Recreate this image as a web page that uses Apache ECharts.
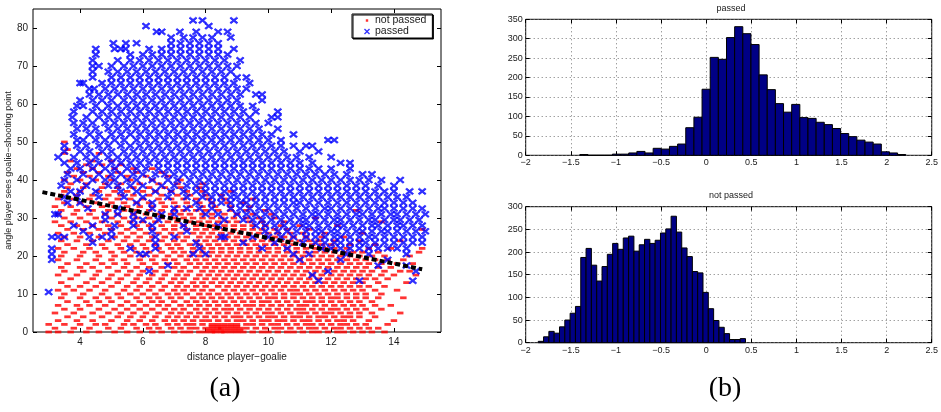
<!DOCTYPE html>
<html>
<head>
<meta charset="utf-8">
<script src="https://cdn.jsdelivr.net/npm/echarts@6/dist/echarts.min.js"></script>
<style>
  html, body { margin: 0; padding: 0; background: #fff; }
  #main { width: 941px; height: 412px; }
</style>
</head>
<body>
<div id="main"></div>
<script>
// ---- data ----
// scatter (a): rows of [angle, [distances...]]
var notPassedRows = [
  [0, [3.0,3.3,3.7,4.2,4.6,5.1,5.5,5.9,6.3,6.6,7.0,7.3,7.5,7.8,8.0,8.2,8.3,8.5,8.6,8.8,9.0,9.2,9.5,9.8,10.0,10.3,10.6,10.8,11.1,11.4,11.6,11.9,12.2,12.4,12.7,13.0,13.3,13.7]],
  [0.5, [8.1,8.3,8.5,8.7,8.9,9.1]],
  [1, [3.2,3.8,4.3,4.9,5.3,5.8,6.2,6.5,6.9,7.2,7.5,7.7,8.0,8.2,8.4,8.5,8.7,8.9,9.1,9.3,9.6,9.9,10.2,10.4,10.7,11.0,11.3,11.5,11.8,12.1,12.3,12.6,12.9,13.2,13.5]],
  [1.5, [8.2,8.4,8.6,8.8,9.0]],
  [2, [3.0,3.5,4.0,4.5,4.8,5.4,5.7,6.1,6.4,6.8,7.1,7.4,7.6,7.9,8.2,8.4,8.6,8.8,9.0,9.3,9.5,9.8,10.1,10.3,10.6,10.9,11.2,11.4,11.7,12.0,12.3,12.5,12.8,13.1,13.8]],
  [3, [3.3,3.9,4.4,5.0,5.5,5.9,6.3,6.7,7.0,7.3,7.6,7.9,8.1,8.4,8.7,9.0,9.2,9.5,9.8,10.0,10.3,10.5,10.8,11.1,11.3,11.6,11.9,12.2,12.4,12.7,13.2,14.0]],
  [4, [3.6,4.1,4.7,5.2,5.6,6.0,6.4,6.8,7.1,7.4,7.7,8.0,8.3,8.6,8.9,9.1,9.4,9.7,10.0,10.2,10.5,10.8,11.0,11.3,11.6,11.8,12.1,12.4,12.6,12.9,13.4]],
  [5, [3.2,3.8,4.4,4.9,5.3,5.7,6.1,6.5,6.9,7.2,7.5,7.8,8.1,8.4,8.7,9.0,9.3,9.6,9.9,10.1,10.4,10.7,11.0,11.2,11.5,11.8,12.0,12.3,12.6,12.9,13.3,14.2]],
  [6, [3.5,4.0,4.6,5.1,5.5,5.9,6.3,6.7,7.0,7.3,7.7,8.0,8.3,8.6,8.8,9.1,9.4,9.7,10.0,10.3,10.6,10.9,11.1,11.4,11.7,12.0,12.2,12.5,12.8,13.1,13.6]],
  [7, [3.3,3.9,4.3,4.8,5.3,5.7,6.1,6.5,6.8,7.2,7.5,7.8,8.1,8.4,8.7,9.0,9.3,9.5,9.8,10.1,10.4,10.7,11.0,11.2,11.5,11.8,12.1,12.4,12.7,13.0,13.4,13.9]],
  [8, [3.6,4.2,4.6,5.0,5.5,5.9,6.3,6.6,7.0,7.4,7.7,8.0,8.3,8.6,8.9,9.2,9.5,9.8,10.0,10.3,10.6,10.9,11.2,11.4,11.7,12.0,12.3,12.6,12.9,13.3]],
  [9, [3.4,4.0,4.5,4.9,5.3,5.8,6.2,6.5,6.9,7.2,7.6,7.9,8.2,8.5,8.8,9.1,9.4,9.7,10.0,10.2,10.5,10.8,11.1,11.4,11.7,12.0,12.2,12.5,12.8,13.1,13.5,14.3]],
  [10, [3.5,4.1,4.7,5.2,5.6,6.0,6.4,6.8,7.1,7.4,7.8,8.1,8.4,8.7,9.0,9.3,9.6,9.9,10.2,10.5,10.8,11.0,11.3,11.6,11.9,12.2,12.5,12.8,13.1,13.6]],
  [11, [3.3,3.8,4.3,4.8,5.4,5.8,6.2,6.6,7.0,7.3,7.6,7.9,8.2,8.6,8.9,9.2,9.5,9.8,10.1,10.4,10.7,10.9,11.2,11.5,11.8,12.1,12.4,12.7,13.0,13.4,14.1]],
  [12, [3.6,4.0,4.5,5.0,5.5,5.9,6.3,6.7,7.1,7.4,7.7,8.0,8.4,8.7,9.0,9.3,9.6,9.9,10.2,10.5,10.8,11.1,11.4,11.7,12.0,12.3,12.6,12.9,13.2,13.7]],
  [13, [3.4,4.2,4.7,5.2,5.7,6.1,6.5,6.9,7.2,7.6,7.9,8.2,8.5,8.8,9.1,9.4,9.7,10.0,10.3,10.6,10.9,11.2,11.5,11.8,12.1,12.4,12.7,13.0,13.5,14.4]],
  [14, [3.7,4.4,4.9,5.3,5.8,6.2,6.6,7.0,7.3,7.7,8.0,8.3,8.6,8.9,9.2,9.5,9.8,10.1,10.4,10.7,11.0,11.3,11.6,11.9,12.2,12.5,12.8,13.1,13.4,13.8]],
  [15, [3.3,3.9,4.5,5.0,5.5,5.9,6.3,6.7,7.1,7.4,7.8,8.1,8.4,8.7,9.0,9.3,9.6,9.9,10.2,10.5,10.8,11.1,11.4,11.7,12.0,12.3,12.6,12.9,13.2,13.6,14.0,14.7]],
  [16, [3.5,4.1,4.6,5.2,5.6,6.0,6.4,6.8,7.2,7.5,7.9,8.2,8.5,8.8,9.1,9.4,9.7,10.0,10.3,10.6,10.9,11.2,11.5,11.8,12.1,12.4,12.7,13.0,13.3,13.7,14.2,14.5]],
  [17, [3.4,4.0,4.4,4.9,5.4,5.8,6.2,6.6,7.0,7.3,7.7,8.0,8.3,8.6,8.9,9.2,9.5,9.8,10.1,10.4,10.7,11.0,11.3,11.6,11.9,12.2,12.5,12.8,13.1,13.5,13.9]],
  [18, [3.6,4.2,4.7,5.1,5.5,6.0,6.4,6.8,7.1,7.5,7.8,8.1,8.4,8.7,9.0,9.3,9.6,9.9,10.2,10.5,10.8,11.1,11.4,11.7,12.0,12.3,12.6,12.9,13.2,13.6,14.1,14.6]],
  [19, [3.3,3.9,4.5,5.0,5.4,5.9,6.3,6.7,7.0,7.4,7.7,8.0,8.3,8.6,8.9,9.2,9.5,9.8,10.1,10.4,10.7,11.0,11.3,11.6,11.9,12.2,12.5,12.8,13.1,13.4,13.8,14.3]],
  [20, [3.4,4.0,4.6,5.1,5.6,6.0,6.4,6.8,7.2,7.5,7.8,8.1,8.4,8.7,9.0,9.3,9.6,9.9,10.2,10.5,10.8,11.1,11.4,11.7,12.0,12.3,12.6,12.9,13.3,13.7,14.5]],
  [21, [3.5,4.1,4.5,5.0,5.4,5.8,6.2,6.6,7.0,7.3,7.6,7.9,8.2,8.5,8.8,9.1,9.4,9.7,10.0,10.3,10.6,10.9,11.2,11.5,11.8,12.1,12.4,12.7,13.0,13.5,14.8]],
  [22, [3.3,3.8,4.3,4.8,5.3,5.7,6.1,6.5,6.9,7.2,7.6,7.9,8.2,8.5,8.8,9.1,9.4,9.7,10.0,10.3,10.6,10.9,11.2,11.5,11.8,12.1,12.5,13.2,13.9,14.9]],
  [23, [3.6,4.2,4.7,5.2,5.6,6.0,6.4,6.8,7.1,7.5,7.8,8.1,8.4,8.7,9.0,9.3,9.6,9.9,10.2,10.5,10.8,11.1,11.4,11.7,12.0,12.6,13.4]],
  [24, [3.4,3.9,4.4,4.9,5.4,5.8,6.2,6.6,7.0,7.3,7.7,8.0,8.3,8.6,8.9,9.2,9.5,9.8,10.1,10.4,10.7,11.0,11.3,11.6,12.1,12.9,14.2]],
  [25, [3.5,4.0,4.6,5.1,5.5,5.9,6.3,6.7,7.1,7.4,7.8,8.1,8.4,8.7,9.0,9.3,9.6,9.9,10.2,10.5,10.8,11.2,11.7,12.4]],
  [26, [3.3,3.8,4.3,4.8,5.3,5.7,6.1,6.5,6.9,7.2,7.6,7.9,8.2,8.5,8.8,9.1,9.4,9.7,10.0,10.3,10.7,11.1,11.8,13.0]],
  [27, [3.6,4.1,4.6,5.0,5.5,5.9,6.3,6.7,7.0,7.4,7.7,8.0,8.3,8.6,8.9,9.2,9.5,9.8,10.2,10.6,11.3,14.9]],
  [28, [3.4,3.9,4.4,4.9,5.3,5.8,6.2,6.6,7.0,7.3,7.7,8.0,8.3,8.6,8.9,9.2,9.5,9.9,10.4,11.0,12.2]],
  [29, [3.2,3.7,4.2,4.7,5.2,5.6,6.0,6.4,6.8,7.1,7.5,7.8,8.1,8.4,8.7,9.0,9.4,9.8,10.5,13.6]],
  [30, [3.5,4.0,4.5,5.0,5.4,5.8,6.2,6.6,7.0,7.3,7.6,7.9,8.2,8.5,8.9,9.3,9.7,10.2,11.5]],
  [31, [3.3,3.8,4.3,4.8,5.2,5.7,6.1,6.5,6.9,7.2,7.5,7.9,8.2,8.6,9.0,9.5,10.1]],
  [32, [3.4,3.9,4.4,4.9,5.4,5.8,6.2,6.6,7.0,7.3,7.7,8.0,8.4,8.8,9.3,9.9,12.8]],
  [33, [3.2,3.7,4.2,4.7,5.1,5.5,5.9,6.3,6.7,7.1,7.5,7.9,8.3,8.8,9.4]],
  [34, [3.5,4.0,4.5,5.0,5.4,5.8,6.2,6.6,7.0,7.4,7.8,8.2,8.7,9.2]],
  [35, [3.3,3.8,4.3,4.8,5.2,5.6,6.0,6.5,6.9,7.3,7.7,8.1,8.6,9.5]],
  [36, [3.4,3.9,4.4,4.9,5.3,5.7,6.2,6.6,7.1,7.5,8.0,8.5]],
  [37, [3.5,4.0,4.6,5.1,5.5,6.0,6.4,6.9,7.4,7.9,8.8]],
  [38, [3.6,4.1,4.7,5.2,5.7,6.2,6.7,7.2,7.8]],
  [39, [3.7,4.2,4.8,5.3,5.9,6.5,7.1,7.9]],
  [40, [3.5,4.0,4.5,5.0,5.6,6.3,7.2]],
  [41, [3.8,4.3,4.9,5.5,6.1,6.8]],
  [42, [3.6,4.1,4.6,5.2,5.8,6.6]],
  [43, [3.9,4.4,5.1,5.7,6.3]],
  [44, [4.2,4.7,5.3]],
  [45, [3.7,4.4,5.0]],
  [47, [3.5,4.6]],
  [48, [3.6]],
  [50, [3.5]]
];

var passedRows = [
  [10.5, [3.0]],
  [13.5, [11.6,12.9,14.6]],
  [15, [11.4]],
  [16, [6.2,11.9,14.7]],
  [17.5, [6.8,13.5,14.4]],
  [19, [3.1,11.0,12.3,13.8]],
  [20.5, [3.1,5.9,6.1,7.6,8.0,10.8,11.3,12.5,13.2,14.4]],
  [22, [3.1,5.6,6.4,7.8,9.8,10.6,11.7,12.0,12.3,12.6,12.9,13.2,13.5,13.8,14.1,14.4]],
  [23.5, [4.4,6.4,7.7,9.2,10.2,11.1,11.5,11.8,12.1,12.3,12.6,12.9,13.1,13.4,13.7,14.0,14.3,14.6,14.9]],
  [25, [3.1,3.3,3.5,4.3,4.7,5.0,6.4,7.0,8.5,8.6,9.5,10.0,10.4,10.8,11.2,11.5,11.8,12.1,12.3,12.6,12.9,13.2,13.4,13.7,14.0,14.3,14.6,14.9]],
  [26.5, [4.1,5.0,6.3,7.4,9.9,10.3,10.6,10.9,11.2,11.5,11.7,12.0,12.2,12.5,12.8,13.0,13.3,13.6,13.8,14.1,14.4,14.7,15.0]],
  [28, [3.8,4.4,5.1,5.7,6.3,7.3,8.4,9.6,9.9,10.2,10.5,10.8,11.1,11.3,11.6,11.9,12.2,12.4,12.7,13.0,13.3,13.5,13.8,14.1,14.3,14.6,14.9]],
  [29.5, [4.8,5.7,6.0,6.5,8.6,9.2,9.5,9.8,10.1,10.4,10.7,11.0,11.2,11.5,11.8,12.1,12.3,12.6,12.9,13.2,13.4,13.7,14.0,14.2,14.5,14.8]],
  [31, [3.2,3.3,4.8,5.2,5.7,6.6,7.0,8.0,8.4,9.0,9.3,9.6,9.9,10.2,10.5,10.8,11.1,11.4,11.6,11.9,12.2,12.5,12.8,13.0,13.3,13.6,13.9,14.1,14.4,14.7,15.0]],
  [32.5, [4.25,5.2,6.3,7.0,7.4,7.8,8.2,8.8,9.1,9.4,9.7,10.0,10.3,10.6,10.9,11.2,11.5,11.8,12.0,12.3,12.6,12.9,13.2,13.5,13.7,14.0,14.3,14.6,14.9]],
  [34, [3.6,4.0,5.8,6.3,7.7,8.2,8.5,8.8,9.1,9.3,9.6,9.9,10.2,10.5,10.8,11.0,11.3,11.6,11.9,12.2,12.5,12.8,13.1,13.4,13.7,14.0,14.3,14.6]],
  [35.5, [3.5,3.9,4.6,5.4,6.0,6.8,7.4,7.9,8.2,8.5,8.8,9.0,9.3,9.6,9.9,10.2,10.5,10.8,11.1,11.4,11.7,12.0,12.3,12.6,12.9,13.2,13.5,13.8,14.1,14.4]],
  [37, [3.7,4.0,4.5,5.3,5.8,6.4,6.9,7.3,7.7,8.0,8.3,8.6,8.9,9.2,9.5,9.8,10.1,10.4,10.7,11.0,11.3,11.6,11.9,12.2,12.5,12.8,13.1,13.4,13.7,14.0,14.5,14.9]],
  [38.5, [3.4,4.2,4.9,5.2,5.6,6.0,6.6,7.0,7.4,7.7,8.0,8.3,8.6,8.9,9.2,9.5,9.8,10.1,10.4,10.7,11.0,11.3,11.6,11.9,12.2,12.5,12.8,13.1,13.5,14.0]],
  [40, [3.5,3.9,4.4,4.8,5.1,5.5,5.8,6.3,6.8,7.1,7.5,7.8,8.1,8.4,8.7,9.0,9.3,9.6,9.9,10.2,10.5,10.8,11.1,11.4,11.7,12.0,12.3,12.6,12.9,13.2,13.6,14.2]],
  [41.5, [3.6,4.1,4.6,5.0,5.3,5.7,6.0,6.4,6.7,7.0,7.3,7.6,7.9,8.2,8.5,8.8,9.1,9.4,9.7,10.0,10.3,10.6,10.9,11.2,11.5,11.8,12.1,12.5,13.0,13.3]],
  [43, [3.7,4.0,4.4,4.8,5.1,5.5,5.8,6.1,6.5,6.8,7.1,7.4,7.7,8.0,8.3,8.6,8.9,9.2,9.5,9.8,10.1,10.4,10.7,11.0,11.3,11.6,12.0,12.6]],
  [44.5, [3.5,3.9,4.3,4.6,5.0,5.3,5.6,5.9,6.2,6.5,6.8,7.1,7.4,7.7,8.0,8.3,8.6,8.9,9.2,9.5,9.8,10.1,10.4,10.7,11.0,11.4,12.3,12.6]],
  [46, [3.3,3.8,4.2,4.5,4.9,5.2,5.5,5.8,6.1,6.4,6.7,7.0,7.3,7.6,7.9,8.2,8.5,8.8,9.1,9.4,9.7,10.0,10.3,10.6,10.9,11.3,12.0]],
  [47.5, [3.5,4.0,4.3,4.7,5.0,5.4,5.7,6.0,6.3,6.6,6.9,7.2,7.5,7.8,8.1,8.4,8.7,9.0,9.3,9.6,9.9,10.2,10.5,11.0,11.6]],
  [49, [3.5,3.9,4.2,4.6,4.9,5.3,5.6,5.9,6.2,6.5,6.8,7.1,7.4,7.7,8.0,8.3,8.6,8.9,9.2,9.5,9.8,10.1,10.4,10.8,11.2,11.4]],
  [50.5, [3.9,4.1,4.5,4.8,5.1,5.4,5.8,6.1,6.4,6.7,7.0,7.3,7.6,7.9,8.2,8.5,8.8,9.1,9.4,9.7,10.0,10.4,11.9,12.1]],
  [52, [3.8,4.3,4.6,5.0,5.3,5.6,5.9,6.2,6.5,6.8,7.1,7.4,7.7,8.0,8.3,8.6,8.9,9.2,9.5,9.8,10.1,10.8]],
  [53.5, [3.9,4.2,4.5,4.9,5.2,5.5,5.8,6.1,6.4,6.7,7.0,7.3,7.6,7.9,8.2,8.5,8.8,9.1,9.4,9.7,10.3]],
  [55, [3.8,4.1,4.4,4.8,5.1,5.4,5.7,6.0,6.3,6.6,6.9,7.2,7.5,7.8,8.1,8.4,8.7,9.0,9.3,9.6,10.0]],
  [56.5, [3.75,4.2,4.6,4.9,5.2,5.5,5.8,6.1,6.4,6.7,7.0,7.3,7.6,7.9,8.2,8.5,8.8,9.1,9.4,10.1,10.3]],
  [58, [3.8,4.4,4.7,5.0,5.3,5.6,5.9,6.2,6.5,6.8,7.1,7.4,7.7,8.0,8.3,8.6,8.9,9.2,9.6,10.3]],
  [59.5, [3.9,4.1,4.5,4.9,5.2,5.5,5.8,6.1,6.4,6.7,7.0,7.3,7.6,7.9,8.2,8.5,8.8,9.1,9.5]],
  [61, [4.0,4.4,4.7,5.0,5.4,5.7,6.0,6.3,6.6,6.9,7.2,7.5,7.8,8.1,8.4,8.7,9.0,9.8]],
  [62.5, [4.3,4.6,4.9,5.2,5.5,5.8,6.1,6.4,6.7,7.0,7.3,7.6,7.9,8.2,8.5,8.8,9.1,9.6,9.8]],
  [64, [4.3,4.45,4.8,5.1,5.4,5.7,6.0,6.3,6.6,6.9,7.2,7.5,7.8,8.1,8.4,8.7,9.0,9.3]],
  [65.5, [4.0,4.1,4.7,5.0,5.3,5.6,5.9,6.2,6.5,6.8,7.1,7.4,7.7,8.0,8.3,8.6,8.9,9.4]],
  [67, [4.4,5.0,5.3,5.6,5.9,6.2,6.5,6.8,7.1,7.4,7.7,8.0,8.3,8.6,9.0,9.3]],
  [68.5, [4.4,4.9,5.2,5.5,5.8,6.1,6.4,6.7,7.0,7.3,7.6,7.9,8.2,8.5,8.8]],
  [70, [4.4,4.6,5.0,5.4,5.7,6.0,6.3,6.6,6.9,7.2,7.5,7.8,8.1,8.4,8.7,9.0]],
  [71.5, [4.4,5.2,5.6,5.9,6.2,6.5,6.8,7.1,7.4,7.7,8.0,8.3,8.6,9.1]],
  [73, [4.5,5.6,6.0,6.3,6.6,6.9,7.2,7.5,7.8,8.1,8.4,8.7]],
  [74.5, [4.5,5.1,5.3,5.45,6.2,6.6,6.9,7.2,7.5,7.8,8.1,8.4,8.9]],
  [76, [5.06,5.46,5.8,6.9,7.2,7.5,7.8,8.1,8.4]],
  [77.5, [6.9,7.3,7.6,7.9,8.2,8.8]],
  [79, [6.44,6.6,7.18,7.7,8.4,8.7]],
  [80.5, [6.1,8.1]],
  [82, [7.6,7.9,8.9]]
];

// dashed fitted separating line (two end points)
var fitX = [2.8, 14.9];
var fitY = [36.8, 16.5];

var scatterXTicks = [4, 6, 8, 10, 12, 14];
var scatterYTicks = [0, 10, 20, 30, 40, 50, 60, 70, 80];

// histograms (b)
var passedStart = -1.40, passedWidth = 0.0903;
var passedCounts = [2,0,0,0,3,3,6,10,6,18,16,23,29,71,98,170,252,247,303,331,313,285,207,169,133,111,131,97,95,85,79,69,56,48,39,34,29,9,6,2];
var notPassedStart = -1.861, notPassedWidth = 0.0589;
var notPassedCounts = [3,13,25,21,35,50,65,80,188,208,171,136,168,195,219,206,231,235,202,216,228,219,226,242,251,279,244,209,190,157,154,111,75,49,34,20,7,7,9];

// ---- build ----
function rowsToPoints(rows) {
  var out = [];
  rows.forEach(function (r) {
    r[1].forEach(function (x) { out.push([x, r[0]]); });
  });
  return out;
}
function binsToData(start, width, counts) {
  return counts.map(function (c, i) {
    return [start + i * width, start + (i + 1) * width, c];
  });
}

var font = 'Liberation Sans, Arial, sans-serif';
var txt = '#1a1a1a';
var xMark = 'path://M0,1.6L1.6,0L5,3.4L8.4,0L10,1.6L6.6,5L10,8.4L8.4,10L5,6.6L1.6,10L0,8.4L3.4,5Z';
var dotMark = 'path://M0,0h0.01v0.01h-0.01z M3,3h4v4h-4z M9.99,9.99h0.01v0.01h-0.01z';

var myChart = echarts.init(document.getElementById('main'));

function histItem(params, api) {
  var p0 = api.coord([api.value(0), 0]);
  var p1 = api.coord([api.value(1), api.value(2)]);
  return {
    type: 'rect',
    shape: { x: p0[0], y: p1[1], width: p1[0] - p0[0], height: p0[1] - p1[1] },
    style: { fill: '#000085', stroke: '#000', lineWidth: 1 }
  };
}

function histX(grid) {
  return {
    type: 'value', gridIndex: grid, min: -2, max: 2.5, interval: 0.5,
    axisLine: { show: false, onZero: false },
    axisTick: { inside: true, length: 4, lineStyle: { color: '#000' } },
    axisLabel: {
      fontSize: 9, color: txt, fontFamily: font, margin: 3,
      formatter: function (v) { return String(v).replace('-', '\u2212'); }
    },
    splitLine: { show: true, lineStyle: { color: '#777', type: [1, 3], width: 1 } }
  };
}
function histY(grid, max) {
  return {
    type: 'value', gridIndex: grid, min: 0, max: max, interval: 50,
    axisLine: { show: false, onZero: false },
    axisTick: { inside: true, length: 4, lineStyle: { color: '#000' } },
    axisLabel: { fontSize: 9, color: txt, fontFamily: font, margin: 3 },
    splitLine: { show: true, lineStyle: { color: '#777', type: [1, 3], width: 1 } }
  };
}
function mirror(axis, pos) {
  var a = Object.assign({}, axis);
  a.position = pos;
  a.axisLabel = { show: false };
  a.splitLine = { show: false };
  a.name = '';
  return a;
}

var sx = {
  type: 'value', gridIndex: 0, min: 2.5, max: 15.5,
  axisLine: { show: false, onZero: false },
  axisTick: { inside: true, length: 4, customValues: scatterXTicks, lineStyle: { color: '#000' } },
  axisLabel: { customValues: scatterXTicks, fontSize: 10, color: txt, fontFamily: font, margin: 5 },
  splitLine: { show: false },
  name: 'distance player\u2212goalie', nameLocation: 'middle', nameGap: 19,
  nameTextStyle: { fontSize: 10, color: txt, fontFamily: font }
};
var sy = {
  type: 'value', gridIndex: 0, min: 0, max: 85,
  axisLine: { show: false, onZero: false },
  axisTick: { inside: true, length: 4, customValues: scatterYTicks, lineStyle: { color: '#000' } },
  axisLabel: { customValues: scatterYTicks, fontSize: 10, color: txt, fontFamily: font, margin: 5 },
  splitLine: { show: false },
  name: 'angle player sees goalie\u2212shooting point', nameLocation: 'middle', nameGap: 19, nameRotate: 90,
  nameTextStyle: { fontSize: 9, color: txt, fontFamily: font }
};

var hx1 = histX(1), hy1 = histY(1, 350);
var hx2 = histX(2), hy2 = histY(2, 300);

var option = {
  animation: false,
  backgroundColor: '#fff',
  grid: [
    { left: 33, top: 9, width: 408, height: 323, show: true, borderColor: '#000', borderWidth: 1, backgroundColor: 'transparent' },
    { left: 525.7, top: 19.3, width: 411, height: 136, show: true, borderColor: '#000', borderWidth: 1, backgroundColor: 'transparent' },
    { left: 525.7, top: 206.7, width: 411, height: 136, show: true, borderColor: '#000', borderWidth: 1, backgroundColor: 'transparent' }
  ],
  xAxis: [sx, mirror(sx, 'top'), hx1, mirror(hx1, 'top'), hx2, mirror(hx2, 'top')],
  yAxis: [sy, mirror(sy, 'right'), hy1, mirror(hy1, 'right'), hy2, mirror(hy2, 'right')],
  legend: {
    left: 352, top: 14, orient: 'vertical',
    padding: [1, 6, 1, 12], itemGap: 0, itemWidth: 6, itemHeight: 6,
    backgroundColor: '#fff', borderColor: '#000', borderWidth: 1,
    shadowColor: '#000', shadowOffsetX: 1, shadowOffsetY: 1, shadowBlur: 0,
    textStyle: { fontSize: 10.5, color: txt, fontFamily: font },
    data: [
      { name: 'not passed', icon: dotMark },
      { name: 'passed', icon: xMark, itemStyle: { borderWidth: 0 } }
    ]
  },
  graphic: [
    { type: 'text', x: 731, y: 9, style: { text: 'passed', textAlign: 'center', textVerticalAlign: 'middle', fontSize: 9, fontFamily: font, fill: txt } },
    { type: 'text', x: 731, y: 196, style: { text: 'not passed', textAlign: 'center', textVerticalAlign: 'middle', fontSize: 9, fontFamily: font, fill: txt } },
    { type: 'text', x: 225, y: 389, style: { text: '(a)', textAlign: 'center', textVerticalAlign: 'middle', fontSize: 28, fontFamily: 'Liberation Serif, DejaVu Serif, serif', fill: '#000' } },
    { type: 'text', x: 725, y: 389, style: { text: '(b)', textAlign: 'center', textVerticalAlign: 'middle', fontSize: 28, fontFamily: 'Liberation Serif, DejaVu Serif, serif', fill: '#000' } }
  ],
  series: [
    {
      name: 'not passed', type: 'scatter', xAxisIndex: 0, yAxisIndex: 0,
      symbol: 'rect', symbolSize: [6.5, 2.8], progressive: 0,
      itemStyle: { color: '#ff0000' },
      data: rowsToPoints(notPassedRows)
    },
    {
      name: 'passed', type: 'scatter', xAxisIndex: 0, yAxisIndex: 0,
      symbol: xMark, symbolSize: [8, 6.5], progressive: 0,
      itemStyle: { color: '#0000ff', borderColor: '#0000ff', borderWidth: 0.7 },
      data: rowsToPoints(passedRows)
    },
    {
      name: 'fit', type: 'line', xAxisIndex: 0, yAxisIndex: 0, z: 5,
      symbol: 'none', silent: true,
      lineStyle: { color: '#000', width: 4, type: [5, 3] },
      data: fitX.map(function (x, i) { return [x, fitY[i]]; })
    },
    {
      name: 'hist passed', type: 'custom', xAxisIndex: 2, yAxisIndex: 2,
      renderItem: histItem, encode: { x: [0, 1], y: 2 },
      data: binsToData(passedStart, passedWidth, passedCounts)
    },
    {
      name: 'hist not passed', type: 'custom', xAxisIndex: 4, yAxisIndex: 4,
      renderItem: histItem, encode: { x: [0, 1], y: 2 },
      data: binsToData(notPassedStart, notPassedWidth, notPassedCounts)
    }
  ]
};

option && myChart.setOption(option);
</script>
</body>
</html>
